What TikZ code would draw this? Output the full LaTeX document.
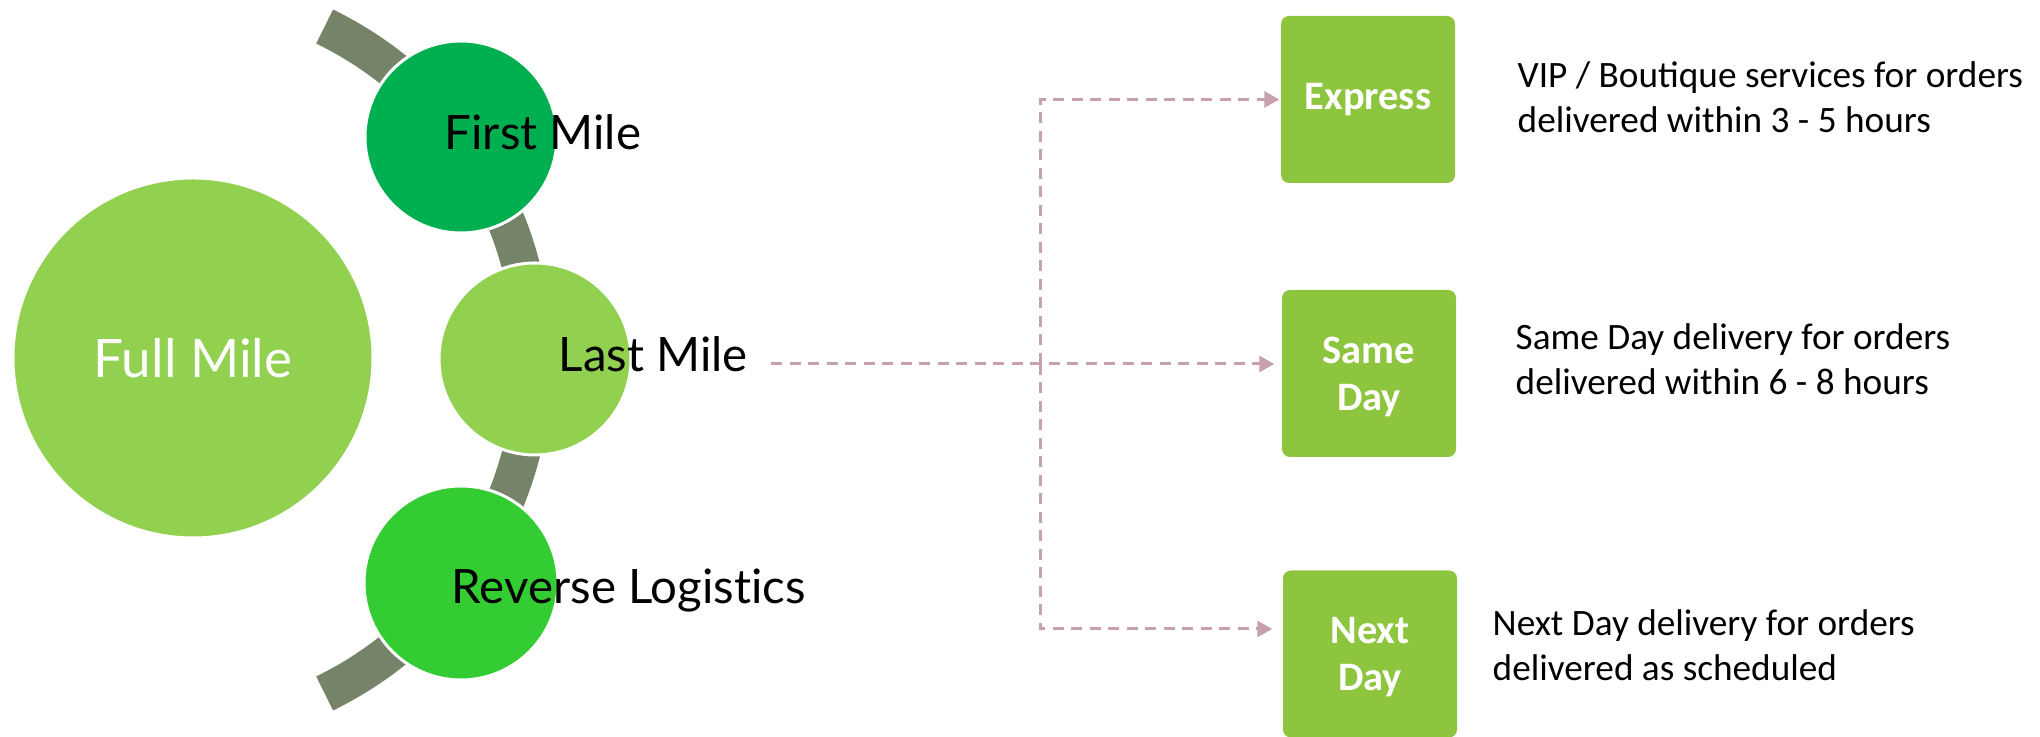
\documentclass[tikz,border=0pt]{standalone}
\usepackage{fontspec}
\setmainfont{Carlito}
\newfontfamily\milefont[Ligatures=NoCommon]{Lato}
\usetikzlibrary{arrows.meta}

\definecolor{fullgreen}{RGB}{146,208,80}
\definecolor{firstgreen}{RGB}{0,176,80}
\definecolor{revgreen}{RGB}{51,204,51}
\definecolor{boxgreen}{RGB}{141,197,63}
\definecolor{bandgray}{RGB}{117,131,105}
\definecolor{dashpink}{RGB}{201,160,174}

\begin{document}
\begin{tikzpicture}[
    circ/.style={circle, draw=white, line width=0.03cm, inner sep=0pt},
    lbl/.style={inner sep=0pt, font=\milefont\fontsize{13.5}{15}\selectfont},
    option/.style={rounded corners=0.08cm, fill=boxgreen, minimum width=1.74cm, minimum height=1.67cm,
        align=center, text=white, font=\bfseries\fontsize{11.5}{13.5}\selectfont},
    twoline/.style={text depth=-0.18cm},
    desc/.style={inner sep=0pt, align=left, font=\fontsize{10.6}{12.8}\selectfont},
    conn/.style={draw=dashpink, line width=0.03cm, dash pattern=on 0.11cm off 0.075cm,
        -{Triangle[length=0.15cm, width=0.16cm, fill=dashpink]}}
]
    \useasboundingbox (0,0) rectangle (20.40,7.37);

    % Background arc
    \coordinate (arcc) at (1.62,3.77);
    \draw[bandgray, line width=0.38cm] ([shift={(64:3.71)}]arcc) arc (64:-64:3.71);

    % Mile circles
    \node[circ, fill=fullgreen, minimum size=3.6cm, text=white, font=\milefont\fontsize{15.1}{17}\selectfont] (full) at (1.93,3.79) {Full Mile};
    \node[circ, fill=firstgreen, minimum size=1.92cm] (first) at (4.61,6.00) {};
    \node[circ, fill=fullgreen, minimum size=1.92cm] (last) at (5.35,3.78) {};
    \node[circ, fill=revgreen, minimum size=1.94cm] (rev) at (4.61,1.54) {};

    % Mile labels
    \node[lbl, anchor=base west] (firstlbl) at (4.44,5.87) {First Mile};
    \node[lbl, anchor=base west] (lastlbl) at (5.58,3.65) {Last Mile};
    \node[lbl, anchor=base west] (revlbl) at (4.51,1.33) {Reverse Logistics};

    % Delivery options
    \node[option] (express) at (13.68,6.375) {Express};
    \node[option, twoline] (sameday) at (13.69,3.635) {Same\\Day};
    \node[option, twoline] (nextday) at (13.70,0.83) {Next\\Day};

    % Descriptions (anchored on the last line)
    \node[desc, anchor=base west] (expressdesc) at (15.17,6.04) {VIP / Boutique services for orders\\delivered within 3 - 5 hours};
    \node[desc, anchor=base west] (samedaydesc) at (15.15,3.42) {Same Day delivery for orders\\delivered within 6 - 8 hours};
    \node[desc, anchor=base west] (nextdaydesc) at (14.92,0.56) {Next Day delivery for orders\\delivered as scheduled};

    % Connectors
    \coordinate (lmout) at (7.71,3.73);
    \coordinate (split) at (10.40,3.73);
    \draw[conn] (lmout) -- ([xshift=-0.07cm]lmout -| sameday.west);
    \draw[conn] (split) |- ([xshift=-0.01cm]express.west);
    \draw[conn] (split) |- ([xshift=-0.1cm, yshift=0.25cm]nextday.west);
\end{tikzpicture}
\end{document}
